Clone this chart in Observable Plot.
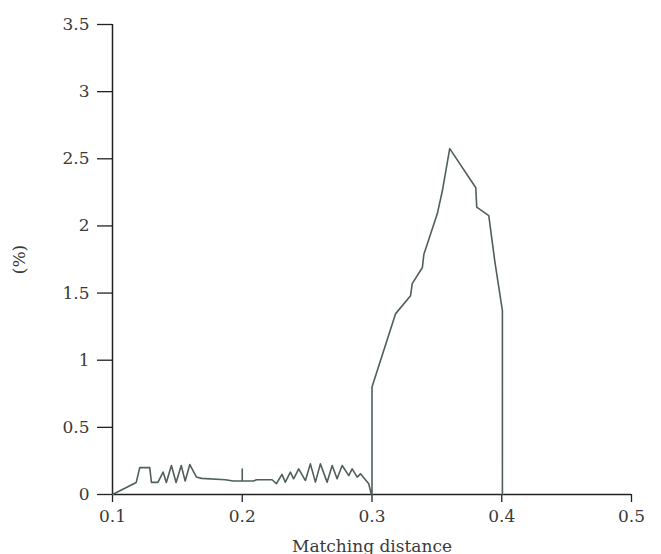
<!DOCTYPE html>
<html>
<head>
<meta charset="utf-8">
<script src="https://cdn.jsdelivr.net/npm/d3@7"></script>
<script src="https://cdn.jsdelivr.net/npm/@observablehq/plot@0.6"></script>
<style>
  html, body { margin: 0; padding: 0; background: #fff; }
</style>
</head>
<body>
<div id="chart"></div>
<script>
// Matching distance (x) and percentage (y)
const distance = [
  0.100, 0.1183, 0.121, 0.1287, 0.130, 0.135, 0.139, 0.1415, 0.1454, 0.149,
  0.153, 0.156, 0.1596, 0.1647, 0.1686, 0.187, 0.193, 0.200, 0.200, 0.200,
  0.2087, 0.211, 0.223, 0.2263, 0.2306, 0.2332, 0.2371, 0.2396, 0.2435, 0.2487,
  0.2525, 0.2564, 0.2602, 0.2654, 0.2693, 0.2731, 0.2770, 0.2821, 0.2847, 0.2886,
  0.2911, 0.2975, 0.2994, 0.300, 0.300, 0.3181, 0.3297, 0.331, 0.3375, 0.3388,
  0.340, 0.3503, 0.3542, 0.3599, 0.380, 0.3807, 0.390, 0.3946, 0.4005, 0.4005
];
const percent = [
  0.00, 0.09, 0.20, 0.20, 0.09, 0.09, 0.167, 0.09, 0.216, 0.09,
  0.216, 0.10, 0.223, 0.13, 0.12, 0.11, 0.10, 0.10, 0.19, 0.10,
  0.10, 0.11, 0.11, 0.08, 0.15, 0.092, 0.166, 0.117, 0.191, 0.104,
  0.228, 0.092, 0.228, 0.092, 0.216, 0.117, 0.216, 0.141, 0.191, 0.129,
  0.154, 0.08, 0.005, 0.00, 0.80, 1.345, 1.48, 1.57, 1.67, 1.69,
  1.79, 2.09, 2.26, 2.576, 2.284, 2.14, 2.077, 1.74, 1.37, 0.00
];
const xTicks = [0.1, 0.2, 0.3, 0.4, 0.5];
const yTicks = [0, 0.5, 1, 1.5, 2, 2.5, 3, 3.5];
const xLabel = "Matching distance";
const yLabel = "(%)";

const data = distance.map((d, i) => ({distance: d, percent: percent[i]}));

const chart = Plot.plot({
  width: 661,
  height: 554,
  marginLeft: 112,
  marginRight: 30,
  marginTop: 24,
  marginBottom: 60,
  style: {fontFamily: "DejaVu Serif", fontSize: "17px", color: "#3a3a3a", background: "#fff"},
  x: {domain: [0.1, 0.5]},
  y: {domain: [0, 3.5]},
  marks: [
    Plot.axisX({ticks: xTicks, tickFormat: d => String(d), tickSize: 8, tickPadding: 7,
      stroke: "#222", strokeWidth: 1.3,
      label: xLabel, labelAnchor: "center", labelArrow: "none", labelOffset: 57}),
    Plot.axisY({ticks: yTicks, tickFormat: d => String(d), tickSize: 15, tickPadding: 8,
      stroke: "#222", strokeWidth: 1.3,
      label: yLabel, labelAnchor: "center", labelArrow: "none", labelOffset: 100}),
    Plot.ruleX([0.1], {stroke: "#222", strokeWidth: 1.5}),
    Plot.ruleY([0], {stroke: "#222", strokeWidth: 1.5}),
    Plot.line(data, {x: "distance", y: "percent", stroke: "#4f5f5a", strokeWidth: 1.6})
  ]
});
document.getElementById("chart").append(chart);
</script>
</body>
</html>
